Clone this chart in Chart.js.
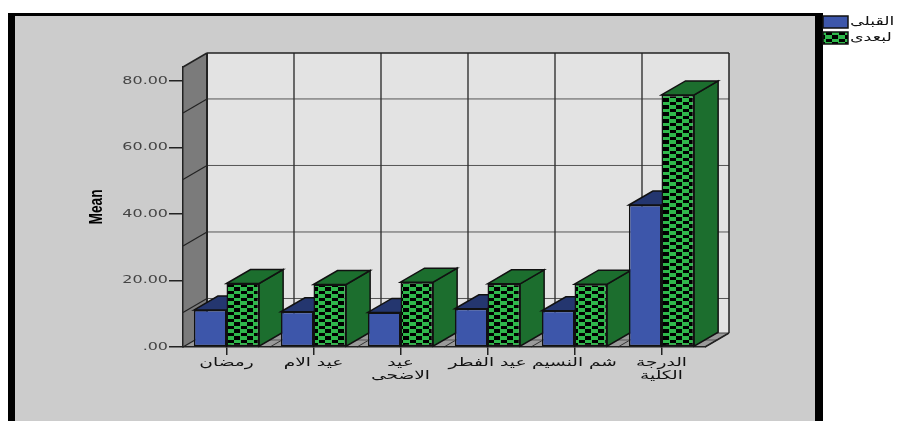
<!DOCTYPE html>
<html>
<head>
<meta charset="utf-8">
<title>Mean</title>
<script src="https://cdn.jsdelivr.net/npm/chart.js@4"></script>
<style>
  html, body { margin: 0; padding: 0; background: #fff; overflow: hidden; }
  canvas { display: block; }
</style>
</head>
<body>
<canvas id="meanChart" width="901" height="421"></canvas>
<script>
const categories = ['رمضان', 'عيد الام', ['عيد', 'الاضحى'], 'عيد الفطر', 'شم النسيم', ['الدرجة', 'الكلية']];
const seriesNames = ['القبلى', 'لبعدى'];
const beforeValues = [11.1, 10.6, 10.4, 11.5, 10.9, 42.7];
const afterValues = [19.1, 18.8, 19.5, 19.0, 18.9, 75.8];
const yTicks = [0, 20, 40, 60, 80];
const yMax = 84.2;

const depthX = 24;
const depthY = 14;
// the wall grid sits lower than the tick marks in the original
const wallShift = 32;

function makeChecker() {
  const tile = document.createElement('canvas');
  tile.width = 13;
  tile.height = 7;
  const c = tile.getContext('2d');
  c.fillStyle = '#2fb84b';
  c.fillRect(0, 0, 13, 7);
  c.fillStyle = '#000';
  c.fillRect(0, 0, 6, 4);
  c.fillRect(7, 4, 6, 3);
  return c.createPattern(tile, 'repeat');
}

function face(ctx, pts, fill, stroke, width) {
  ctx.beginPath();
  pts.forEach((p, i) => i ? ctx.lineTo(p[0], p[1]) : ctx.moveTo(p[0], p[1]));
  ctx.closePath();
  if (fill) { ctx.fillStyle = fill; ctx.fill(); }
  if (stroke) { ctx.strokeStyle = stroke; ctx.lineWidth = width || 1.5; ctx.stroke(); }
}

function seg(ctx, x1, y1, x2, y2, color, width) {
  ctx.beginPath();
  ctx.moveTo(x1, y1);
  ctx.lineTo(x2, y2);
  ctx.strokeStyle = color;
  ctx.lineWidth = width;
  ctx.stroke();
}

// text in the original is stretched, so rescale it along the baseline while fn runs
function widened(ctx, sx, dx, fn) {
  const fill = ctx.fillText;
  ctx.fillText = function (t, x, y) {
    ctx.save();
    ctx.translate(x + dx, y);
    ctx.scale(sx, 1);
    fill.call(ctx, t, 0, 0);
    ctx.restore();
  };
  fn();
  delete ctx.fillText;
}

function widen(obj, method, ctx, sx, dx) {
  const orig = obj[method];
  obj[method] = function () {
    const args = arguments;
    widened(ctx, sx, dx, () => orig.apply(this, args));
  };
}

// frame, walls and floor of the 3D box
const boxPlugin = {
  id: 'box3d',
  afterLayout(chart) {
    const lg = chart.legend;
    const w = lg.width, h = lg.height;
    lg.left = 819; lg.right = lg.left + w;
    lg.top = 12; lg.bottom = lg.top + h;

    if (!chart._widened) {
      chart._widened = true;
      widen(chart.scales.y, 'drawLabels', chart.ctx, 1.45, 0);
      widen(chart.scales.y, 'drawTitle', chart.ctx, 0.72, 0);
      widen(chart.scales.x, 'drawLabels', chart.ctx, 1.55, 0);
      widen(lg, 'draw', chart.ctx, 1.45, -4);
    }
  },
  beforeDraw(chart) {
    const ctx = chart.ctx;
    const a = chart.chartArea;
    const y = chart.scales.y;
    ctx.save();
    ctx.fillStyle = '#000';
    ctx.fillRect(8, 13, 815, 408);
    ctx.fillStyle = '#cccccc';
    ctx.fillRect(15, 16, 800, 405);

    face(ctx, [[a.left + depthX, a.top - depthY], [a.right + depthX, a.top - depthY],
      [a.right + depthX, a.bottom - depthY], [a.left + depthX, a.bottom - depthY]], '#e3e3e3');
    face(ctx, [[a.left, a.bottom], [a.left + depthX, a.bottom - depthY],
      [a.left + depthX, a.top - depthY], [a.left, a.top]], '#7b7b7b');
    face(ctx, [[a.left, a.bottom], [a.left + depthX, a.bottom - depthY],
      [a.right + depthX, a.bottom - depthY], [a.right, a.bottom]], '#9a9a9a');

    yTicks.forEach(v => {
      if (v === 0) return;
      const py = y.getPixelForValue(v) + wallShift;
      seg(ctx, a.left + depthX, py - depthY, a.right + depthX, py - depthY, '#555', 1);
      seg(ctx, a.left, py, a.left + depthX, py - depthY, '#222', 1.2);
    });
    seg(ctx, a.left, a.bottom, a.left + depthX, a.bottom - depthY, '#222', 1.2);
    const step = (a.right - a.left) / categories.length;
    categories.forEach((c, i) => {
      const bx = a.left + step * (i + 1);
      if (i < categories.length - 1) seg(ctx, bx + depthX, a.top - depthY, bx + depthX, a.bottom - depthY, '#333', 1.4);
      seg(ctx, bx, a.bottom, bx + depthX, a.bottom - depthY, '#333', 1);
    });
    seg(ctx, a.left + depthX / 2, a.bottom - depthY / 2, a.right + depthX / 2, a.bottom - depthY / 2, '#555', 1);
    seg(ctx, a.left + depthX, a.top - depthY, a.right + depthX, a.top - depthY, '#222', 1.5);
    seg(ctx, a.right + depthX, a.top - depthY, a.right + depthX, a.bottom - depthY, '#222', 1.5);
    seg(ctx, a.left + depthX, a.top - depthY, a.left + depthX, a.bottom - depthY, '#222', 2);
    seg(ctx, a.left + depthX, a.bottom - depthY, a.right + depthX, a.bottom - depthY, '#444', 1);
    seg(ctx, a.left, a.top, a.left + depthX, a.top - depthY, '#222', 1.5);
    seg(ctx, a.right, a.bottom, a.right + depthX, a.bottom - depthY, '#222', 1.5);
    ctx.restore();
  },
  beforeDatasetsDraw(chart) {
    const ctx = chart.ctx;
    const topColors = ['#24366f', '#1c6e2e'];
    const sideColors = ['#24366f', '#1c6e2e'];
    ctx.save();
    categories.forEach((c, i) => {
      [0, 1].forEach(d => {
        const b = chart.getDatasetMeta(d).data[i];
        const l = b.x - b.width / 2, r = b.x + b.width / 2;
        face(ctx, [[r, b.y], [r + depthX, b.y - depthY], [r + depthX, b.base - depthY], [r, b.base]], sideColors[d], '#111');
        face(ctx, [[l, b.y], [l + depthX, b.y - depthY], [r + depthX, b.y - depthY], [r, b.y]], topColors[d], '#111');
      });
    });
    ctx.restore();
  }
};

new Chart(document.getElementById('meanChart'), {
  type: 'bar',
  data: {
    labels: categories,
    datasets: [
      { label: seriesNames[0], data: beforeValues, backgroundColor: '#3d56aa', borderColor: '#111', borderWidth: 1.5, borderSkipped: false },
      { label: seriesNames[1], data: afterValues, backgroundColor: makeChecker(), borderColor: '#111', borderWidth: 1.5, borderSkipped: false }
    ]
  },
  options: {
    responsive: false,
    animation: false,
    devicePixelRatio: 1,
    layout: { padding: { left: 85, right: 196, top: 67, bottom: 0 } },
    datasets: { bar: { categoryPercentage: 0.75, barPercentage: 1 } },
    plugins: {
      tooltip: { enabled: false },
      legend: {
        position: 'chartArea',
        align: 'start',
        labels: {
          boxWidth: 25,
          boxHeight: 12,
          padding: 4,
          color: '#111',
          font: { family: 'DejaVu Sans', size: 12 }
        }
      }
    },
    scales: {
      x: {
        afterFit: s => { s.height = 74; },
        grid: { drawOnChartArea: false, offset: false, color: '#222', lineWidth: 1.5, tickLength: 8 },
        border: { color: '#222', width: 1.5 },
        ticks: {
          color: '#111',
          padding: 1,
          maxRotation: 0,
          autoSkip: false,
          font: { family: 'DejaVu Sans', size: 12, lineHeight: 1.08 }
        }
      },
      y: {
        min: 0,
        max: yMax,
        afterFit: s => { s.width = 98; },
        afterBuildTicks: s => { s.ticks = yTicks.map(v => ({ value: v })); },
        title: {
          display: true,
          text: 'Mean',
          color: '#000',
          padding: 0,
          font: { family: 'Liberation Sans', size: 19, weight: 'bold' }
        },
        grid: { drawOnChartArea: false, color: '#222', lineWidth: 1.5, tickLength: 14 },
        border: { color: '#222', width: 1.5 },
        ticks: {
          color: '#444',
          padding: 1,
          font: { family: 'DejaVu Sans', size: 11 },
          callback: v => v === 0 ? '.00' : v.toFixed(2)
        }
      }
    }
  },
  plugins: [boxPlugin]
});
</script>
</body>
</html>
